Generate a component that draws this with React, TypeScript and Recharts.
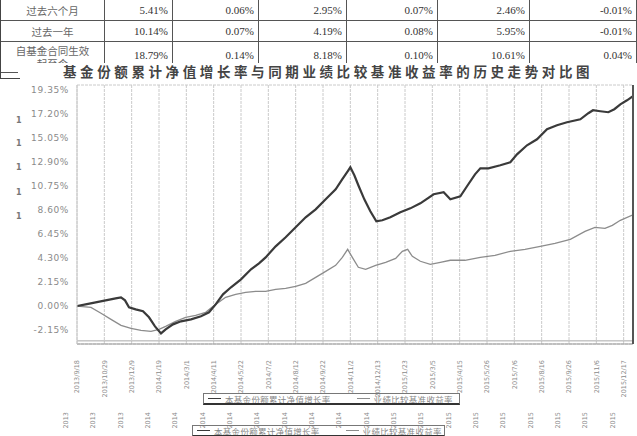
import React from 'react';
import { LineChart, Line, XAxis, YAxis, CartesianGrid, Legend, ReferenceLine } from 'recharts';

// ---- table data ----
const periodLabels = ['过去六个月', '过去一年', '自基金合同生效起至今'];
const navGrowth = ['5.41%', '10.14%', '18.79%'];
const navStd = ['0.06%', '0.07%', '0.14%'];
const benchGrowth = ['2.95%', '4.19%', '8.18%'];
const benchStd = ['0.07%', '0.08%', '0.10%'];
const diffGrowth = ['2.46%', '5.95%', '10.61%'];
const diffStd = ['-0.01%', '-0.01%', '0.04%'];

// ---- chart data (x = days since 2013/9/18) ----
const fundDays = [0, 13, 28, 43, 58, 66, 72, 78, 88, 99, 108, 117, 126, 133, 144, 156, 171, 186, 198, 208, 219, 231, 246, 261, 273, 283, 298, 313, 328, 343, 358, 373, 388, 398, 406, 410, 416, 422, 431, 440, 449, 458, 470, 485, 500, 515, 535, 550, 560, 575, 585, 597, 605, 617, 635, 650, 660, 675, 690, 705, 720, 735, 755, 767, 774, 785, 797, 806, 815, 825, 834];
const fundValues = [0, 0.15, 0.33, 0.51, 0.69, 0.78, 0.51, -0.12, -0.3, -0.47, -1.01, -1.82, -2.45, -2.09, -1.64, -1.37, -1.19, -0.92, -0.56, 0.15, 1.05, 1.68, 2.39, 3.29, 3.83, 4.36, 5.35, 6.16, 7.05, 7.95, 8.66, 9.56, 10.46, 11.36, 12.07, 12.43, 11.71, 10.82, 9.56, 8.49, 7.59, 7.68, 7.95, 8.4, 8.75, 9.2, 10.01, 10.19, 9.56, 9.83, 10.73, 11.8, 12.34, 12.34, 12.61, 12.88, 13.59, 14.4, 14.94, 15.84, 16.19, 16.46, 16.73, 17.27, 17.54, 17.45, 17.36, 17.63, 18.07, 18.43, 18.79];

const benchDays = [0, 21, 36, 51, 66, 81, 96, 111, 123, 133, 148, 163, 178, 193, 208, 223, 238, 253, 268, 283, 298, 313, 328, 343, 358, 373, 388, 398, 406, 413, 422, 433, 448, 463, 478, 488, 496, 503, 515, 530, 545, 560, 582, 605, 627, 650, 672, 695, 717, 740, 762, 777, 792, 803, 815, 834];
const benchValues = [0, -0.12, -0.65, -1.19, -1.73, -2.0, -2.18, -2.27, -2.09, -1.82, -1.37, -1.01, -0.83, -0.56, 0.15, 0.78, 1.05, 1.23, 1.32, 1.32, 1.5, 1.59, 1.77, 2.03, 2.57, 3.11, 3.65, 4.36, 5.08, 4.36, 3.47, 3.29, 3.65, 3.92, 4.27, 4.9, 5.08, 4.45, 4.01, 3.74, 3.92, 4.1, 4.1, 4.36, 4.54, 4.9, 5.08, 5.35, 5.62, 5.98, 6.69, 7.05, 6.96, 7.23, 7.68, 8.18];

const xTickDays = [0, 41, 82, 123, 164, 205, 246, 287, 328, 369, 410, 451, 492, 533, 574, 615, 656, 697, 738, 779, 820];
const xTickLabels = ['2013/9/18', '2013/10/29', '2013/12/9', '2014/1/19', '2014/3/1', '2014/4/11', '2014/5/22', '2014/7/2', '2014/8/12', '2014/9/22', '2014/11/2', '2014/12/13', '2015/1/23', '2015/3/5', '2015/4/15', '2015/5/26', '2015/7/6', '2015/8/16', '2015/9/26', '2015/11/6', '2015/12/17'];
const yTicks = [-2.15, 0, 2.15, 4.3, 6.45, 8.6, 10.75, 12.9, 15.05, 17.2, 19.35];

const seriesNames = ['本基金份额累计净值增长率', '业绩比较基准收益率'];
const seriesColors = ['#3a3a3a', '#8c8c8c'];

const fundData = fundDays.map((d, i) => ({ d, v: fundValues[i] }));
const benchData = benchDays.map((d, i) => ({ d, v: benchValues[i] }));

const cjk = '"Noto Sans CJK SC", sans-serif';

const XTick = (props: any) => {
  const { x, y, payload } = props;
  const idx = xTickDays.indexOf(payload.value);
  const label = idx >= 0 ? xTickLabels[idx] : '';
  const year = label.split('/')[0];
  return (
    <g>
      <text transform={`translate(${x + 2.2},${y + 8}) rotate(-90)`} textAnchor="end" fontSize={6.5} fill="#8a8a8a" fontFamily="DejaVu Sans">{label}</text>
      <text transform={`translate(${x - 9},${y + 60}) rotate(-90)`} textAnchor="end" fontSize={6.5} fill="#8a8a8a" fontFamily="DejaVu Sans">{year}</text>
    </g>
  );
};

const LegendBox = ({ payload }: any) => (
  <div style={{ display: 'flex', alignItems: 'center', height: 12, width: '100%', border: '1px solid #777', borderBottom: '2px solid #333', boxSizing: 'border-box', fontSize: 8.5, letterSpacing: 0.3, fontFamily: cjk, color: '#888', paddingLeft: 4, whiteSpace: 'nowrap', lineHeight: '10px', overflow: 'hidden' }}>
    {(payload || []).map((p: any, i: number) => (
      <span key={i} style={{ display: 'inline-flex', alignItems: 'center', marginRight: i === 0 ? 26 : 0 }}>
        <span style={{ display: 'inline-block', width: 13, height: 1, background: p.color, marginRight: 4 }} />
        {p.value}
      </span>
    ))}
  </div>
);

const cellBorder = '1px solid #555';

export default function App() {
  const colWidths = [104, 68, 86, 88, 91, 92, 107];
  const rowHeights = [21, 21, 31];
  return (
    <div style={{ position: 'absolute', left: 0, top: 0, width: 637, height: 436, overflow: 'hidden', background: '#fff' }}>
      <table style={{ position: 'absolute', top: -1, left: 0, borderCollapse: 'collapse', tableLayout: 'fixed', width: 636, fontFamily: '"Liberation Serif", "Noto Sans CJK SC", serif', fontSize: 11, color: '#333' }}>
        <colgroup>
          {colWidths.map((w, i) => <col key={i} style={{ width: w }} />)}
        </colgroup>
        <tbody>
          {periodLabels.map((p, r) => (
            <tr key={r} style={{ height: rowHeights[r] }}>
              <td style={{ border: cellBorder, textAlign: 'center', color: '#666', fontFamily: cjk, fontSize: 10.5, lineHeight: '13px', padding: 0, verticalAlign: r === 2 ? 'top' : 'middle', paddingTop: r === 2 ? 2 : 0 }}>
                {r === 2 ? (<>{p.slice(0, 7)}<br />{p.slice(7)}</>) : p}
              </td>
              {[navGrowth, navStd, benchGrowth, benchStd, diffGrowth, diffStd].map((col, c) => (
                <td key={c} style={{ border: cellBorder, textAlign: 'right', paddingRight: 4, paddingLeft: 0, verticalAlign: r === 2 ? 'top' : 'middle', paddingTop: r === 2 ? 7 : 0, lineHeight: r === 2 ? '12px' : undefined }}>{col[r]}</td>
              ))}
            </tr>
          ))}
        </tbody>
      </table>
      {/* title band */}
      <div style={{ position: 'absolute', top: 63, left: 18, width: 619, height: 17, background: '#fff' }} />
      <div style={{ position: 'absolute', top: 63, left: 63, fontFamily: cjk, fontWeight: 700, fontSize: 13.5, letterSpacing: 3.6, color: '#444', whiteSpace: 'nowrap', lineHeight: '16px' }}>
        基金份额累计净值增长率与同期业绩比较基准收益率的历史走势对比图
      </div>
      <div style={{ position: 'absolute', top: 0, left: 0, width: 1, height: 79, background: '#444' }} />
      <div style={{ position: 'absolute', top: 78, left: 0, width: 20, height: 1, background: '#444' }} />
      {[122, 145, 169, 194, 218].map((t, i) => (
        <div key={i} style={{ position: 'absolute', top: t - 6, left: 16, fontSize: 8, fontWeight: 700, color: '#777', fontFamily: 'DejaVu Sans' }}>1</div>
      ))}
      <div style={{ position: 'absolute', top: 80, left: 0 }}>
        <LineChart width={637} height={356} margin={{ top: 5, right: 0, bottom: 0, left: 0 }}>
          <CartesianGrid stroke="#cacaca" strokeDasharray="3 1" />
          <XAxis
            dataKey="d"
            type="number"
            domain={[0, 834]}
            ticks={xTickDays}
            interval={0}
            height={92}
            tick={<XTick />}
            tickLine={false}
            axisLine={{ stroke: '#999' }}
            allowDataOverflow
          />
          <YAxis
            yAxisId="left"
            domain={[-3.4, 19.8]}
            ticks={yTicks}
            interval={0}
            width={77}
            tickLine={false}
            axisLine={{ stroke: '#c8c8c8' }}
            tickFormatter={(v: number) => v.toFixed(2) + '%'}
            tick={{ fontSize: 9, fill: '#8a8a8a', fontFamily: 'DejaVu Sans', letterSpacing: 0.6 }}
            allowDataOverflow
          />
          <YAxis yAxisId="right" orientation="right" width={4} domain={[-3.4, 19.8]} tick={false} tickLine={false} axisLine={{ stroke: '#555', strokeWidth: 2 }} />
          <ReferenceLine yAxisId="left" y={-3.12} stroke="#aaa" />
          <Line yAxisId="left" data={benchData} dataKey="v" name={seriesNames[1]} stroke={seriesColors[1]} strokeWidth={1.3} dot={false} isAnimationActive={false} />
          <Line yAxisId="left" data={fundData} dataKey="v" name={seriesNames[0]} stroke={seriesColors[0]} strokeWidth={2.2} dot={false} isAnimationActive={false} />
          <Legend
            layout="horizontal"
            verticalAlign="middle"
            align="center"
            content={(p: any) => <LegendBox payload={[...(p.payload || [])].reverse()} />}
            wrapperStyle={{ position: 'absolute', top: 313, left: 203, width: 257, height: 12 }}
          />
        </LineChart>
      </div>
      <div style={{ position: 'absolute', top: 425, left: 192, width: 253 }}>
        <LegendBox payload={seriesNames.map((n, i) => ({ value: n, color: seriesColors[i] }))} />
      </div>
    </div>
  );
}
